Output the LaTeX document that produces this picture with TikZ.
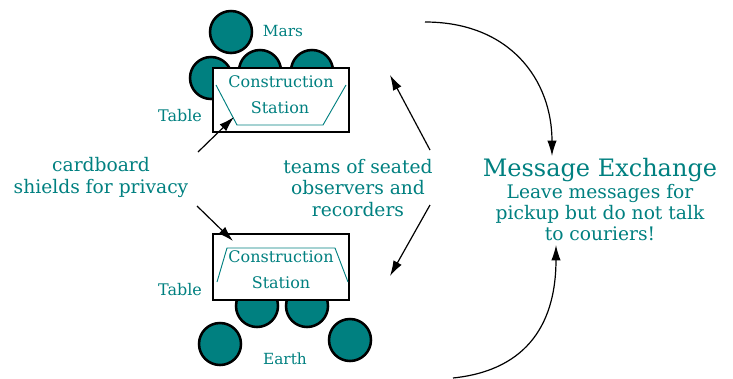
\documentclass[tikz,border=0pt]{standalone}
\usepackage{fontspec}
\setmainfont{DejaVu Serif}
\usetikzlibrary{arrows.meta}
\definecolor{deskteal}{RGB}{0,128,128}

\tikzset{
  seat/.style={draw=black, line width=1.9pt, fill=deskteal},
  desk/.style={draw=black, line width=0.8pt, fill=white},
  shield/.style={draw=deskteal, line width=0.7pt},
  pointer/.style={draw=black, line width=0.9pt, -{Latex[length=11.5pt,width=7pt]}},
  small/.style={text=deskteal, font=\fontsize{11.5}{13}\selectfont},
  station/.style={text=deskteal, font=\fontsize{12}{14}\selectfont},
  words/.style={text=deskteal, align=center, font=\fontsize{14}{16}\selectfont}
}

\begin{document}
\begin{tikzpicture}[x=0.75pt, y=-0.75pt]
		\useasboundingbox (0,0) rectangle (733,379);

		\filldraw[seat] (231,32) circle (21);
		\filldraw[seat] (211,78) circle (21);
		\filldraw[seat] (260,71) circle (21);
		\filldraw[seat] (312,71) circle (21);
		\draw[desk] (213,68) rectangle (349,132);
		\draw[shield] (216,85) -- (237,125) -- (323,125) -- (346,85);
		\node[station] (con1) at (281,82) {Construction};
		\node[station] (sta1) at (280,108) {Station};
		\node[small] (mars) at (283,31) {Mars};
		\node[small, font=\fontsize{12}{14}\selectfont] (tab1) at (180,116) {Table};

		\filldraw[seat] (257,306) circle (21);
		\filldraw[seat] (307,306) circle (21);
		\filldraw[seat] (220,344) circle (21);
		\filldraw[seat] (350,340) circle (21);
		\draw[desk] (213,234) rectangle (349,300);
		\draw[shield] (217,282) -- (227,248) -- (335,248) -- (348,282);
		\node[station] (con2) at (281,257) {Construction};
		\node[station] (sta2) at (281,283) {Station};
		\node[small, font=\fontsize{12}{14}\selectfont] (tab2) at (180,290) {Table};
		\node[small] (earth) at (285,359) {Earth};

		\node[words] (card) at (101,177.5) {cardboard\\shields for privacy};
		\node[words] (teams) at (358,188) {teams of seated\\observers and\\recorders};
		\node[words] (msg) at (600,200) {{\fontsize{18}{20}\selectfont Message Exchange}\\Leave messages for\\pickup but do not talk\\to couriers!};

		\coordinate (shieldtop) at (234,117);
		\coordinate (shieldbot) at (233,241);
		\coordinate (deskup) at (390,75);
		\coordinate (deskdown) at (390,276);
		\coordinate (tripa) at (425,22);
		\coordinate (tripb) at (453,378);
		\coordinate (inbox) at (552,156);
		\coordinate (outbox) at (556,245);

		\draw[pointer] (198,152) -- (shieldtop);
		\draw[pointer] (197,206) -- (shieldbot);
		\draw[pointer] (430,150) -- (deskup);
		\draw[pointer] (430,205) -- (deskdown);
		\draw[pointer] (tripa) .. controls (510,22) and (552,80) .. (inbox);
		\draw[pointer] (tripb) .. controls (530,370) and (556,320) .. (outbox);
	\end{tikzpicture}
\end{document}
